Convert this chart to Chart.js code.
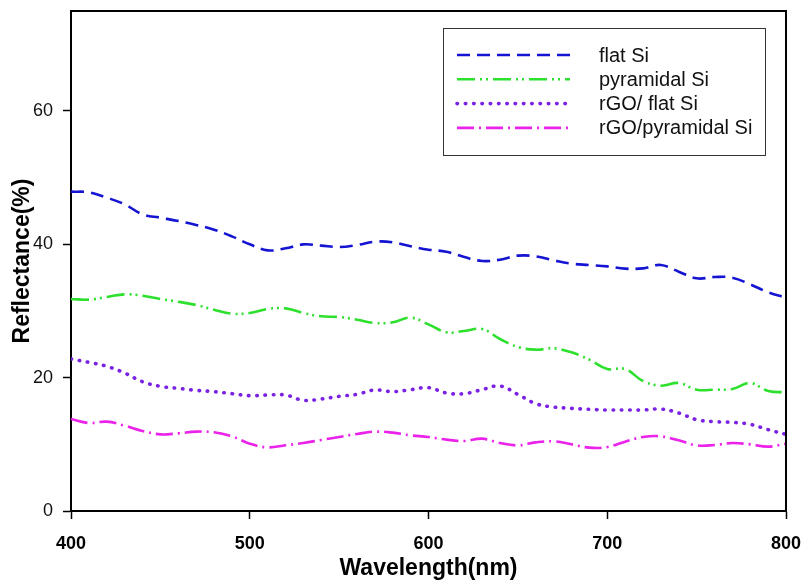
<!doctype html><html lang="en"><head>
<meta charset="UTF-8"><title>Reflectance</title>
<script src="https://cdn.jsdelivr.net/npm/chart.js"></script>
<style>
 body{margin:0;background:#fff}
 #wrap{width:806px;height:581px}
</style></head><body>
<div id="wrap"><canvas id="c" width="806" height="581"></canvas></div>
<script>
// ----- data -----
const wavelength = [400,410,420,430,440,450,460,470,480,490,500,510,520,530,540,550,560,570,580,590,
                    600,610,620,630,640,650,660,670,680,690,700,710,720,730,740,750,760,770,780,790,800];
const flatSi = [47.9,47.8,47.0,46.0,44.5,44.0,43.5,42.9,42.2,41.2,40.0,39.1,39.4,40.0,39.8,39.6,39.9,40.4,40.3,39.7,
                39.2,38.9,38.1,37.5,37.7,38.3,38.2,37.6,37.1,36.9,36.7,36.35,36.4,36.9,35.9,34.9,35.1,35.0,34.0,32.8,32.0];
const pyramidalSi = [31.8,31.7,32.1,32.5,32.3,31.8,31.4,30.9,30.2,29.6,29.7,30.3,30.4,29.7,29.2,29.1,28.7,28.2,28.3,29.0,
                     28.0,26.8,27.0,27.3,25.8,24.6,24.2,24.4,23.8,22.7,21.3,21.3,19.5,18.8,19.2,18.2,18.2,18.3,19.2,18.0,17.8];
const rgoFlatSi = [22.8,22.3,21.7,20.7,19.4,18.7,18.4,18.1,17.9,17.6,17.3,17.4,17.4,16.6,16.8,17.2,17.5,18.15,17.9,18.2,
                   18.5,17.7,17.6,18.2,18.75,17.5,16.1,15.6,15.4,15.25,15.15,15.15,15.15,15.3,14.7,13.7,13.4,13.3,13.0,12.2,11.5];
const rgoPyramidalSi = [13.8,13.2,13.4,12.8,12.0,11.5,11.65,11.9,11.8,11.2,10.1,9.55,9.85,10.2,10.65,11.1,11.55,11.9,11.75,11.35,
                        11.1,10.7,10.5,10.85,10.2,9.85,10.3,10.45,10.0,9.5,9.6,10.4,11.1,11.2,10.6,9.85,9.9,10.2,10.0,9.65,10.1];
const labels = ['flat Si','pyramidal Si','rGO/ flat Si','rGO/pyramidal Si'];
const yTicks = [0,20,40,60];
const xTicks = [400,500,600,700,800];

const FONT = "'Liberation Sans', Arial, sans-serif";
const pts = arr => arr.map((v,i)=>({x:wavelength[i], y:v}));

const series = [
  {label:labels[0], data:pts(flatSi),         borderColor:'#1414d2', borderDash:[13,7]},
  {label:labels[1], data:pts(pyramidalSi),    borderColor:'#2ee02e', borderDash:[18,5,2,4,2,5]},
  {label:labels[2], data:pts(rgoFlatSi),      borderColor:'#7a22e4', borderDash:[0.5,7.8], borderWidth:3.6, borderCapStyle:'round'},
  {label:labels[3], data:pts(rgoPyramidalSi), borderColor:'#ea22ea', borderDash:[17,5,2,5]},
].map(d=>({borderWidth:2.6, pointRadius:0, tension:0.4, fill:false, ...d}));

// box round plot + legend inside
const frame = {
  id:'frame',
  afterDraw(chart){
    const {ctx, chartArea:a} = chart;
    ctx.save();
    ctx.strokeStyle='#000'; ctx.lineWidth=2;
    ctx.beginPath();
    ctx.moveTo(a.left,a.top); ctx.lineTo(a.right,a.top); ctx.lineTo(a.right,a.bottom);
    ctx.stroke();
    // legend
    const lx = a.right-343, ly = a.top+17, w = 322, h = 127;
    ctx.lineWidth=1; ctx.strokeStyle='#333';
    ctx.strokeRect(lx+0.5, ly+0.5, w, h);
    ctx.font = '20px '+FONT; ctx.fillStyle='#111'; ctx.textBaseline='middle';
    chart.data.datasets.forEach((d,i)=>{
      const y = ly + 27 + i*24.3;
      ctx.beginPath();
      ctx.strokeStyle=d.borderColor; ctx.lineWidth=d.borderWidth;
      ctx.lineCap=d.borderCapStyle||'butt';
      ctx.setLineDash(d.borderDash);
      ctx.moveTo(lx+14,y); ctx.lineTo(lx+127,y); ctx.stroke();
      ctx.setLineDash([]);
      ctx.fillText(d.label, lx+156, y+1);
    });
    ctx.restore();
  }
};

new Chart(document.getElementById('c'),{
  type:'line',
  data:{datasets:series},
  options:{
    responsive:false, animation:false,
    layout:{padding:{top:11,right:20,left:0,bottom:0}},
    plugins:{legend:{display:false}, tooltip:{enabled:false}},
    scales:{
      x:{type:'linear', min:400, max:800,
        afterFit:s=>{s.height=70; s.paddingLeft=0; s.paddingRight=0;},
        afterBuildTicks:s=>{s.ticks = xTicks.map(v=>({value:v}));},
        grid:{drawOnChartArea:false, tickLength:8, color:'#000', tickWidth:1.5},
        border:{color:'#000', width:2},
        ticks:{color:'#000', padding:14, maxRotation:0, font:{family:FONT, size:18, weight:'bold'}},
        title:{display:true, text:'Wavelength(nm)', color:'#000', padding:{top:0,bottom:-1},
          font:{family:FONT, size:23, weight:'bold'}}},
      y:{min:0, max:75,
        afterFit:s=>{s.width=71; s.paddingTop=0; s.paddingBottom=0;},
        afterBuildTicks:s=>{s.ticks = yTicks.map(v=>({value:v}));},
        grid:{drawOnChartArea:false, tickLength:8, color:'#000', tickWidth:1.5},
        border:{color:'#000', width:2},
        ticks:{color:'#111', padding:10, font:{family:FONT, size:18}},
        title:{display:true, text:'Reflectance(%)', color:'#000', padding:{top:9,bottom:0},
          font:{family:FONT, size:23, weight:'bold'}}}
    }
  },
  plugins:[frame]
});
</script>
</body></html>
